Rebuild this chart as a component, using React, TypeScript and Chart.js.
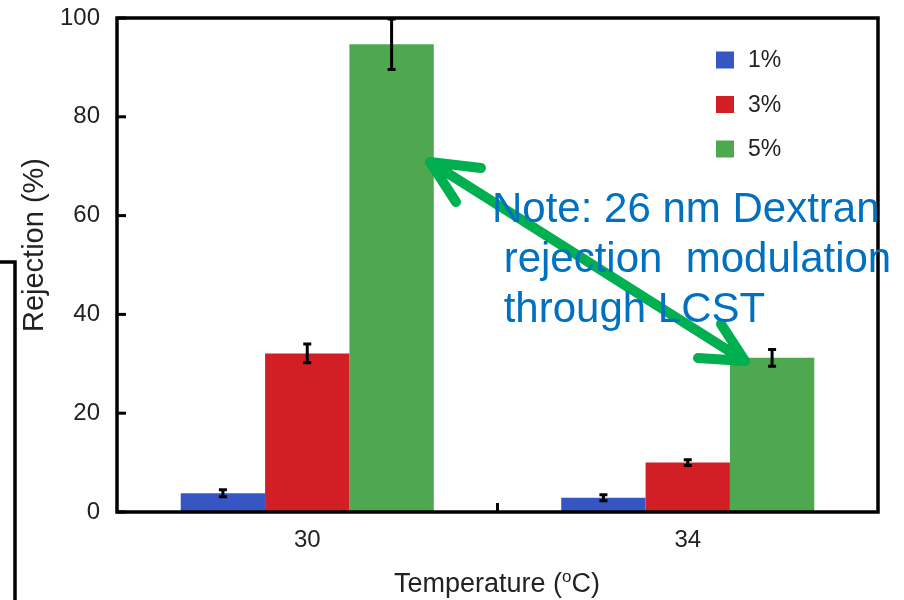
import React, { useEffect, useRef } from "react";
import { Chart, registerables } from "chart.js";

Chart.register(...registerables);

const categories = ["30", "34"];
const seriesLabels = ["1%", "3%", "5%"];
const values1 = [3.8, 2.9];
const errors1 = [0.7, 0.6];
const values3 = [32.1, 10.0];
const errors3 = [1.9, 0.6];
const values5 = [94.7, 31.2];
const errors5 = [5.1, 1.7];
const yTicks = [0, 20, 40, 60, 80, 100];
const colors = ["#3556C3", "#D21F26", "#4DA84F"];
const noteLines = ["Note: 26 nm Dextran", " rejection  modulation", " through LCST"];
const yTitle = "Rejection (%)";

const FONT = "'Liberation Sans', Arial, Helvetica, sans-serif";

const overlayPlugin = {
  id: "overlay",
  afterDatasetsDraw(chart: any) {
    const ctx = chart.ctx;
    const errs = [errors1, errors3, errors5];
    const ys = chart.scales.y;
    ctx.save();
    ctx.strokeStyle = "#000";
    ctx.lineWidth = 3;
    chart.data.datasets.forEach((ds: any, i: number) => {
      const meta = chart.getDatasetMeta(i);
      meta.data.forEach((el: any, j: number) => {
        const v = ds.data[j];
        const e = errs[i][j];
        const yt = ys.getPixelForValue(Math.min(100, v + e));
        const yb = ys.getPixelForValue(v - e);
        ctx.beginPath();
        ctx.moveTo(el.x, yt);
        ctx.lineTo(el.x, yb);
        ctx.moveTo(el.x - 4, yt);
        ctx.lineTo(el.x + 4, yt);
        ctx.moveTo(el.x - 4, yb);
        ctx.lineTo(el.x + 4, yb);
        ctx.stroke();
      });
    });
    ctx.restore();
  },
  afterDraw(chart: any) {
    const ctx = chart.ctx;
    const a = chart.chartArea;
    const xs = chart.scales.x;
    const ys = chart.scales.y;
    ctx.save();
    // frame
    ctx.strokeStyle = "#000";
    ctx.lineWidth = 3.5;
    ctx.strokeRect(a.left, a.top, a.right - a.left, a.bottom - a.top);
    // inward y ticks
    ctx.lineWidth = 3;
    yTicks.forEach((t) => {
      const y = ys.getPixelForValue(t);
      ctx.beginPath();
      ctx.moveTo(a.left, y);
      ctx.lineTo(a.left + 9, y);
      ctx.stroke();
    });
    // mid x tick
    const mid = (xs.getPixelForValue(0) + xs.getPixelForValue(1)) / 2;
    ctx.beginPath();
    ctx.moveTo(mid, a.bottom);
    ctx.lineTo(mid, a.bottom - 9);
    ctx.stroke();

    // stray bracket line on the left
    ctx.lineWidth = 3.5;
    ctx.beginPath();
    ctx.moveTo(0, 262);
    ctx.lineTo(15, 262);
    ctx.lineTo(15, 600);
    ctx.stroke();

    // legend
    ctx.font = `23px ${FONT}`;
    ctx.textBaseline = "middle";
    ctx.textAlign = "left";
    const legY = [60, 104.5, 149];
    seriesLabels.forEach((lab, i) => {
      ctx.fillStyle = colors[i];
      ctx.fillRect(716, legY[i] - 8.5, 18, 17);
      ctx.fillStyle = "#222";
      ctx.fillText(lab, 748, legY[i] + 1);
    });

    // y title
    ctx.save();
    ctx.translate(43, 245);
    ctx.rotate(-Math.PI / 2);
    ctx.font = `29px ${FONT}`;
    ctx.textAlign = "center";
    ctx.textBaseline = "alphabetic";
    ctx.fillStyle = "#222";
    ctx.fillText(yTitle, 0, 0);
    ctx.restore();

    // x title with superscript
    const big = `27px ${FONT}`;
    const small = `17px ${FONT}`;
    const p1 = "Temperature (";
    const p2 = "o";
    const p3 = "C)";
    ctx.font = big;
    const w1 = ctx.measureText(p1).width;
    const w3 = ctx.measureText(p3).width;
    ctx.font = small;
    const w2 = ctx.measureText(p2).width;
    const total = w1 + w2 + w3;
    let x0 = 497 - total / 2;
    const base = 592;
    ctx.fillStyle = "#222";
    ctx.textAlign = "left";
    ctx.textBaseline = "alphabetic";
    ctx.font = big;
    ctx.fillText(p1, x0, base);
    ctx.font = small;
    ctx.fillText(p2, x0 + w1, base - 10);
    ctx.font = big;
    ctx.fillText(p3, x0 + w1 + w2, base);

    // arrow
    ctx.strokeStyle = "#00B050";
    ctx.lineWidth = 10;
    ctx.lineCap = "round";
    ctx.lineJoin = "round";
    const t1 = [430, 162];
    const t2 = [745, 361];
    ctx.beginPath();
    ctx.moveTo(t1[0], t1[1]);
    ctx.lineTo(t2[0], t2[1]);
    ctx.moveTo(481, 168);
    ctx.lineTo(t1[0], t1[1]);
    ctx.lineTo(456, 202);
    ctx.moveTo(698, 358);
    ctx.lineTo(t2[0], t2[1]);
    ctx.lineTo(721, 324);
    ctx.stroke();

    // note text
    ctx.font = `42px ${FONT}`;
    ctx.fillStyle = "#0070C0";
    ctx.textAlign = "left";
    ctx.textBaseline = "alphabetic";
    ctx.fillText(noteLines[0], 492, 222);
    ctx.fillText(noteLines[1], 492, 272);
    ctx.fillText(noteLines[2], 492, 322);
    ctx.restore();
  },
};

export default function App() {
  const ref = useRef<HTMLCanvasElement>(null);
  useEffect(() => {
    if (!ref.current) return;
    const chart = new Chart(ref.current, {
      type: "bar",
      data: {
        labels: categories,
        datasets: [
          { label: seriesLabels[0], data: values1, backgroundColor: colors[0] },
          { label: seriesLabels[1], data: values3, backgroundColor: colors[1] },
          { label: seriesLabels[2], data: values5, backgroundColor: colors[2] },
        ],
      },
      options: {
        responsive: false,
        animation: false,
        devicePixelRatio: 1,
        layout: { padding: { top: 18, right: 26, left: 0, bottom: 0 } },
        datasets: { bar: { categoryPercentage: 0.665, barPercentage: 1.0 } },
        plugins: { legend: { display: false }, tooltip: { enabled: false } },
        scales: {
          x: {
            type: "category",
            offset: true,
            grid: { display: false, drawTicks: false },
            border: { display: false },
            ticks: { font: { size: 24, family: FONT }, color: "#222", padding: 14 },
            afterFit: (s: any) => {
              s.height = 88;
              s.paddingLeft = 0;
              s.paddingRight = 0;
            },
          },
          y: {
            min: 0,
            max: 100,
            grid: { display: false, drawTicks: false },
            border: { display: false },
            ticks: { stepSize: 20, font: { size: 24, family: FONT }, color: "#222", padding: 17 },
            afterFit: (s: any) => {
              s.width = 117;
              s.paddingTop = 0;
              s.paddingBottom = 0;
            },
          },
        },
      } as any,
      plugins: [overlayPlugin],
    });
    return () => chart.destroy();
  }, []);
  return (
    <div style={{ position: "absolute", left: 0, top: 0, width: 904, height: 600, background: "#fff" }}>
      <canvas ref={ref} width={904} height={600} style={{ display: "block" }} />
    </div>
  );
}
